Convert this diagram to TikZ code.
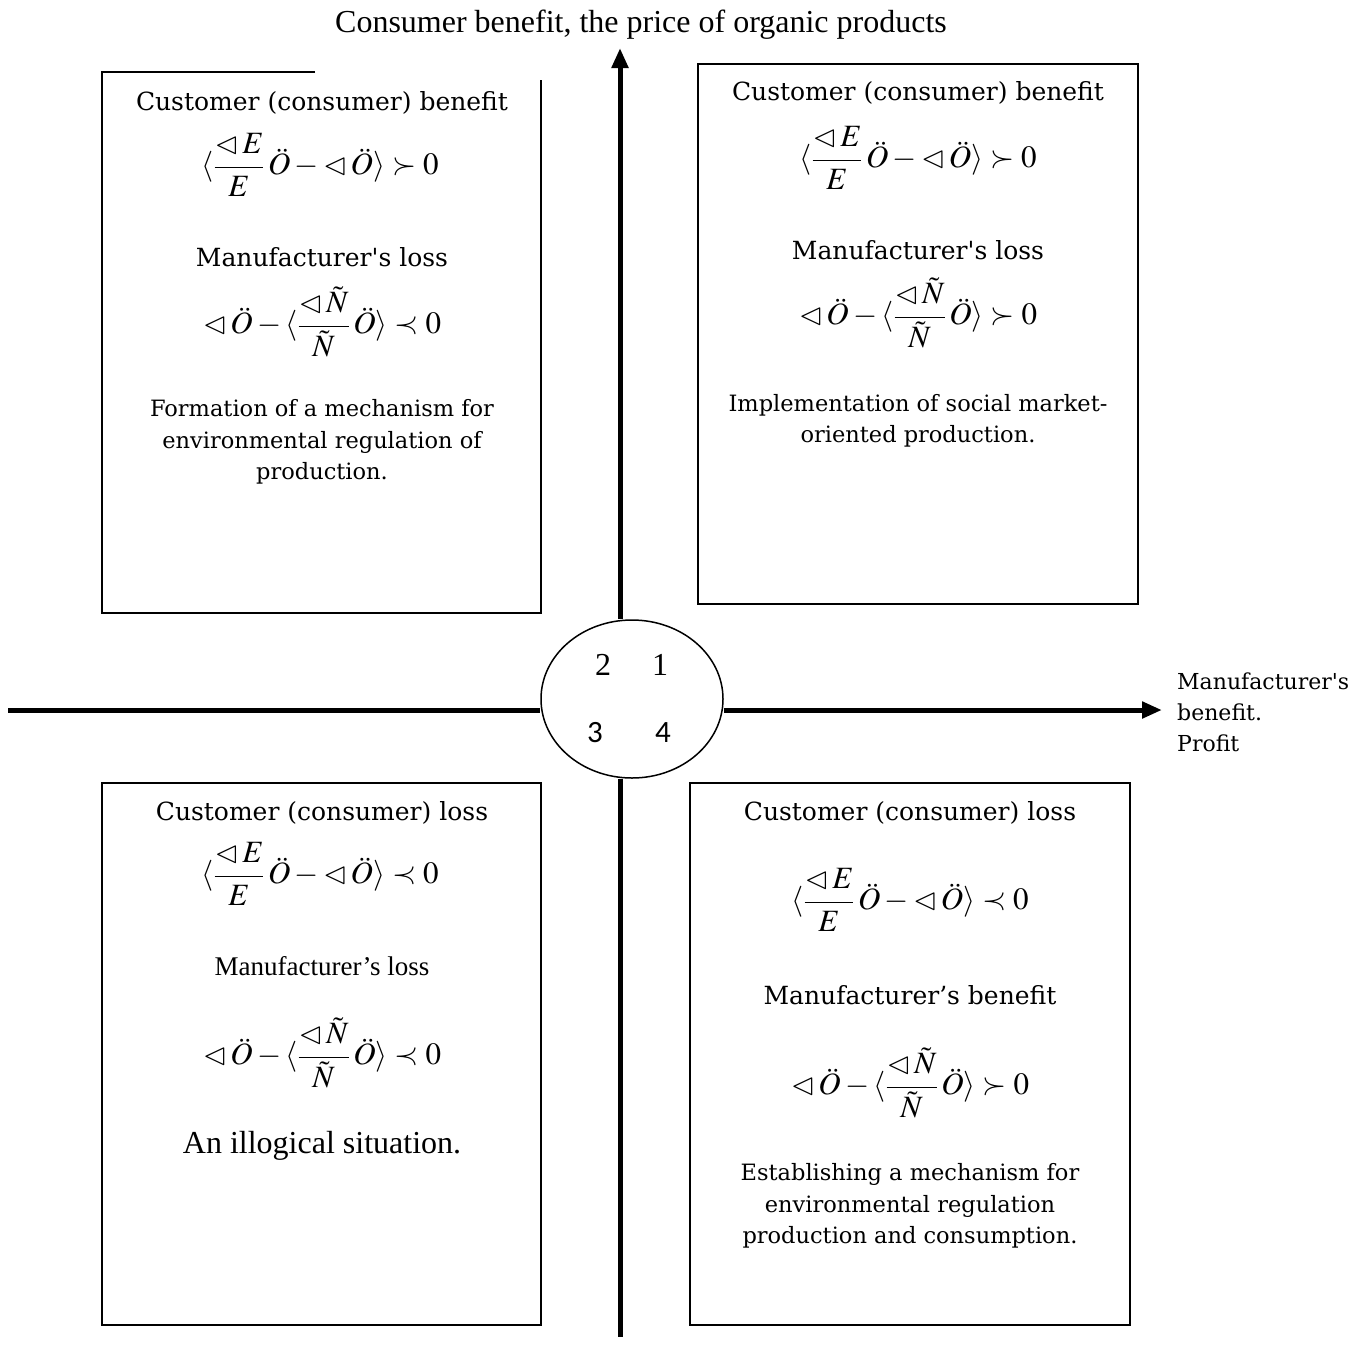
\documentclass[tikz,border=0pt]{standalone}
\usepackage{amssymb}
\usepackage{mathptmx}
\usepackage[no-math]{fontspec}
\setmainfont{Liberation Serif}
\newfontfamily\cambfont{DejaVu Serif}
\newfontfamily\calfont{Carlito}
\usetikzlibrary{shapes.geometric,arrows.meta}
\newcommand{\consgain}[1]{$\displaystyle\langle\frac{\lhd\,E}{E}\,\ddot{O}-\lhd\,\ddot{O}\rangle#1 0$}
\newcommand{\prodgain}[1]{$\displaystyle\lhd\,\ddot{O}-\langle\frac{\lhd\,\tilde{N}}{\tilde{N}}\,\ddot{O}\rangle#1 0$}
\tikzset{
  quad/.style={draw,line width=1.5pt},
  axis/.style={line width=5pt},
  head/.style={font=\cambfont\fontsize{25}{31}\selectfont,align=center,inner sep=0pt},
  txt/.style={font=\cambfont\fontsize{22.5}{31.5}\selectfont,align=center,inner sep=0pt},
  rom/.style={font=\fontsize{32}{36}\selectfont,inner sep=0pt},
  frm/.style={font=\fontsize{31}{36}\selectfont,inner sep=0pt},
}
\begin{document}
\begin{tikzpicture}[x=1pt,y=-1pt,>={Triangle[length=20pt,width=16pt]}]
 \useasboundingbox (0,0) rectangle (1365,1345);
 \node[rom] (ttl) at (641,25) {Consumer benefit, the price of organic products};
 % axes and the ellipse in the middle
 \node[draw,ellipse,line width=1.5pt,minimum width=182pt,minimum height=158pt] (circ) at (632,699) {};
 \coordinate (ytop) at (620,48);
 \coordinate (ybot) at (620,1337);
 \coordinate (xlft) at (8,710);
 \coordinate (xrgt) at (1162,710);
 \draw[axis,->] (ytop |- circ.north) -- (ytop);
 \draw[axis] (ybot |- circ.south) -- (ybot);
 \draw[axis] (xlft) -- (xlft -| circ.west);
 \draw[axis,->] (xrgt -| circ.east) -- (xrgt);
 \node[rom] (n2) at (603,665) {2};
 \node[rom] (n1) at (660,665) {1};
 \node[font=\calfont\fontsize{31}{34}\selectfont,inner sep=0pt] (n3) at (595,733) {3};
 \node[font=\calfont\fontsize{31}{34}\selectfont,inner sep=0pt] (n4) at (663,733) {4};
 \node[font=\cambfont\fontsize{22}{31}\selectfont,align=left,inner sep=0pt,anchor=west] (xlab) at (1177,712) {Manufacturer's\\benefit.\\Profit};
 % quarter 1
 \draw[quad] (698,64) rectangle (1138,604);
 \node[head] (q1a) at (918,93) {Customer (consumer) benefit};
 \node[frm] (q1b) at (918,158) {\consgain\succ};
 \node[head] (q1c) at (918,250) {Manufacturer's loss};
 \node[frm] (q1d) at (918,313) {\prodgain\succ};
 \node[txt] (q1e) at (918,421) {Implementation of social market-\\oriented production.};
 % quarter 2
 \draw[quad] (315,72) -- (102,72) -- (102,613) -- (541,613) -- (541,80);
 \node[head] (q2a) at (322,103) {Customer (consumer) benefit};
 \node[frm] (q2b) at (320,165) {\consgain\succ};
 \node[head] (q2c) at (322,257) {Manufacturer's loss};
 \node[frm] (q2d) at (322,322) {\prodgain\prec};
 \node[txt] (q2e) at (322,442) {Formation of a mechanism for\\environmental regulation of\\production.};
 % quarter 3
 \draw[quad] (102,783) rectangle (541,1325);
 \node[head] (q3a) at (322,813) {Customer (consumer) loss};
 \node[frm] (q3b) at (320,874) {\consgain\prec};
 \node[font=\fontsize{27}{30}\selectfont,inner sep=0pt] (q3c) at (322,966) {Manufacturer’s loss};
 \node[frm] (q3d) at (322,1053) {\prodgain\prec};
 \node[rom] (q3e) at (322,1146) {An illogical situation.};
 % quarter 4
 \draw[quad] (690,783) rectangle (1130,1325);
 \node[head] (q4a) at (910,813) {Customer (consumer) loss};
 \node[frm] (q4b) at (910,900) {\consgain\prec};
 \node[head] (q4c) at (910,995) {Manufacturer’s benefit};
 \node[frm] (q4d) at (910,1083) {\prodgain\succ};
 \node[txt] (q4e) at (910,1206) {Establishing a mechanism for\\environmental regulation\\production and consumption.};
\end{tikzpicture}
\end{document}
